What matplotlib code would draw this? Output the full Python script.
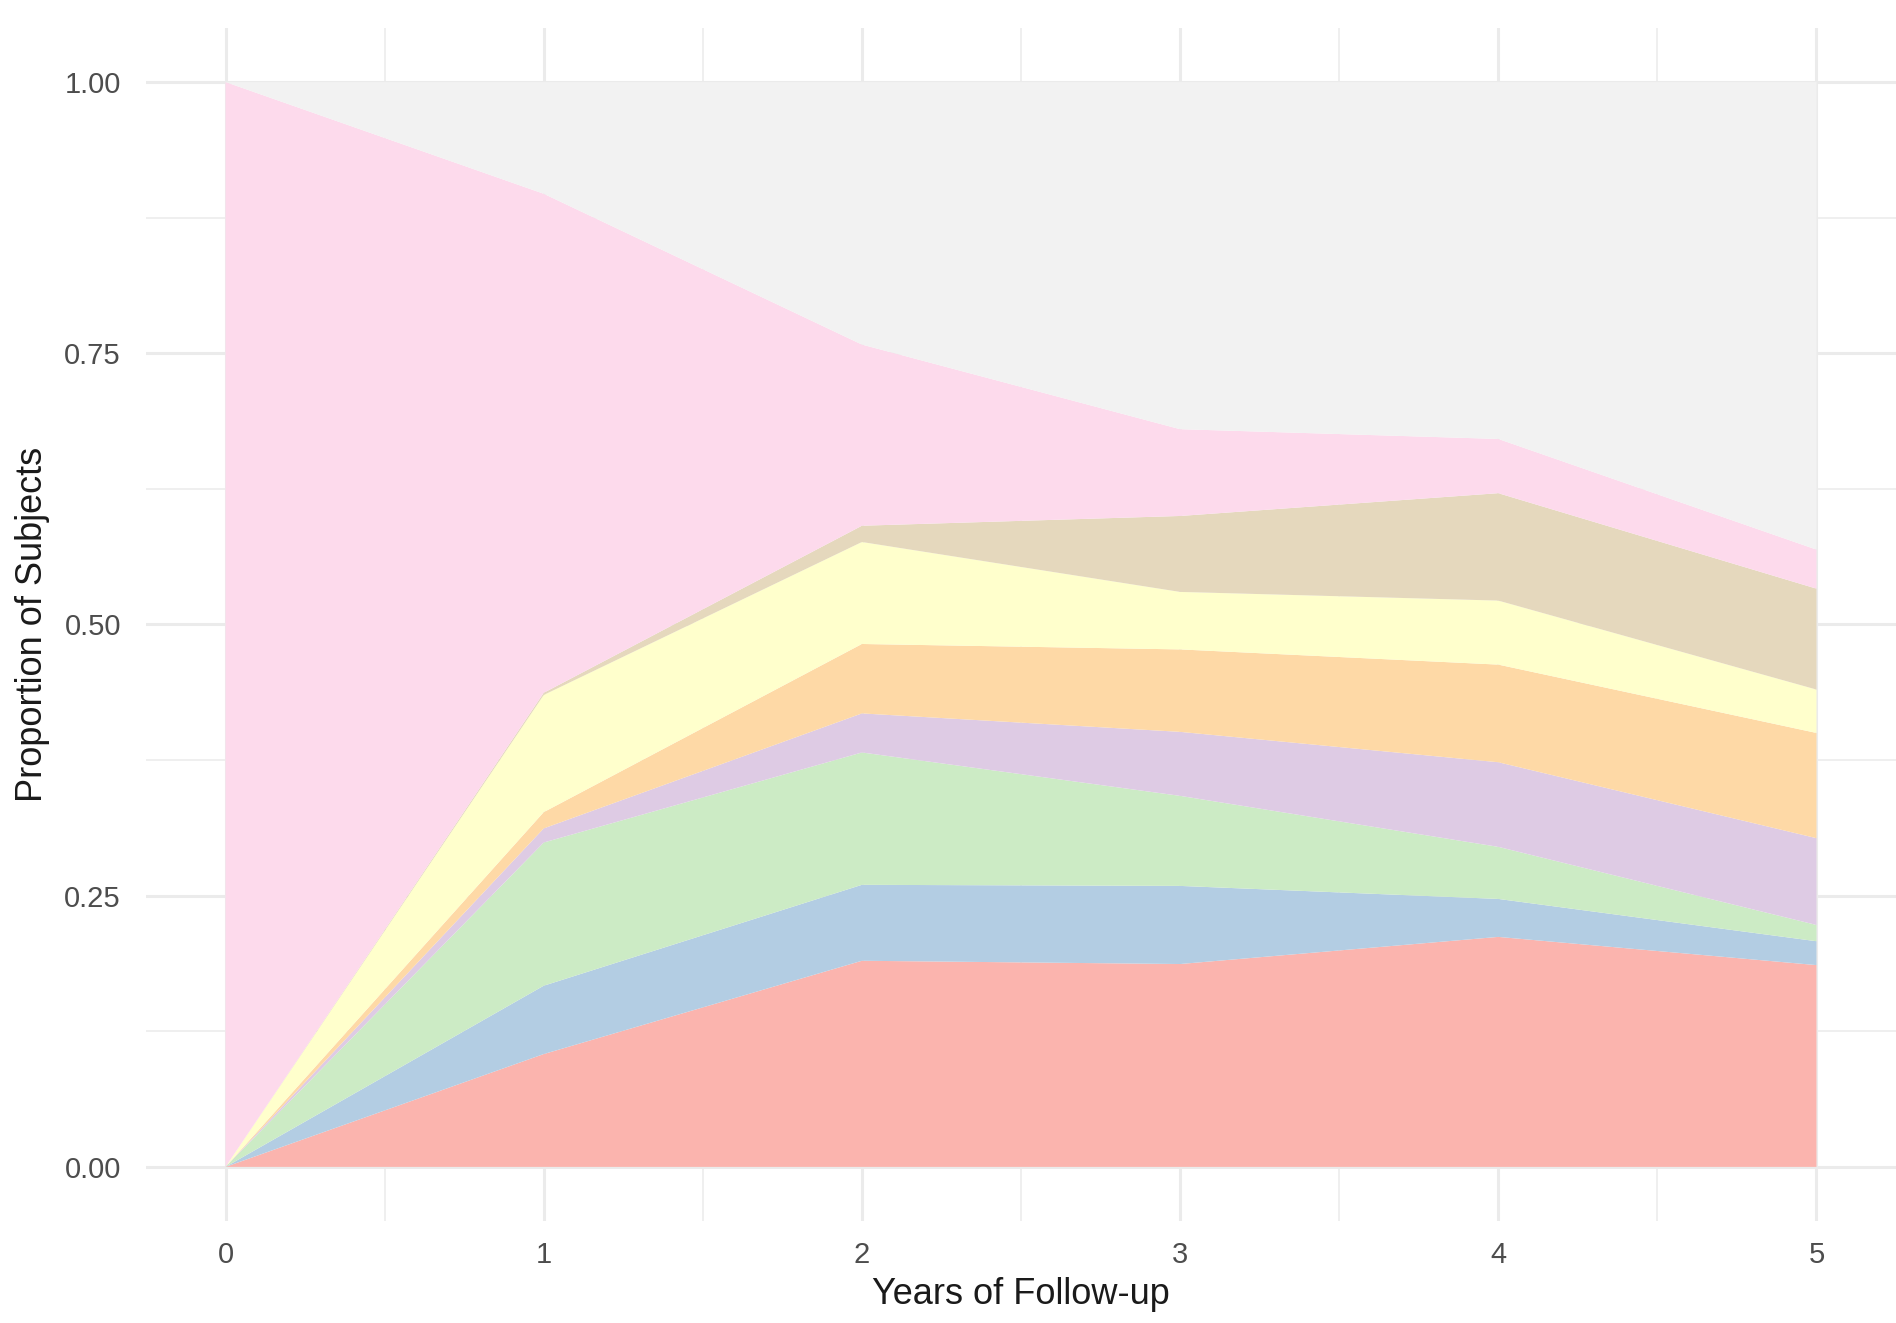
import matplotlib
matplotlib.use("Agg")
import matplotlib.pyplot as plt
import numpy as np

# proportions of subjects in each state by year of follow-up
years = [0, 1, 2, 3, 4, 5]
state_1 = [0, 0.104, 0.190, 0.187, 0.212, 0.186]
state_2 = [0, 0.063, 0.070, 0.072, 0.035, 0.022]
state_3 = [0, 0.132, 0.122, 0.083, 0.048, 0.015]
state_4 = [0, 0.013, 0.036, 0.059, 0.078, 0.080]
state_5 = [0, 0.015, 0.064, 0.076, 0.090, 0.097]
state_6 = [0, 0.108, 0.094, 0.053, 0.059, 0.040]
state_7 = [0, 0.002, 0.015, 0.070, 0.099, 0.093]
state_8 = [1, 0.460, 0.167, 0.080, 0.050, 0.036]
state_9 = [0, 0.103, 0.242, 0.320, 0.329, 0.431]

layers = [state_1, state_2, state_3, state_4, state_5,
          state_6, state_7, state_8, state_9]
# Pastel1
colors = ['#FBB4AE', '#B3CDE3', '#CCEBC5', '#DECBE4', '#FED9A6',
          '#FFFFCC', '#E5D8BD', '#FDDAEC', '#F2F2F2']

plt.rcParams['font.family'] = ['Liberation Sans', 'DejaVu Sans']

fig = plt.figure(figsize=(18.96, 13.23), dpi=100)
ax = fig.add_axes([0.077, 0.077, 0.923, 0.902])

ax.stackplot(years, *layers, colors=colors, linewidth=0, zorder=2)

ax.set_xlim(-0.25, 5.25)
ax.set_ylim(-0.05, 1.05)
ax.set_xticks(years)
ax.set_xticks(np.arange(0.5, 5, 1), minor=True)
ax.set_yticks([0, 0.25, 0.5, 0.75, 1.0])
ax.set_yticklabels(['0.00', '0.25', '0.50', '0.75', '1.00'])
ax.set_yticks([0.125, 0.375, 0.625, 0.875], minor=True)

ax.grid(which='major', color='#EBEBEB', linewidth=2.2, zorder=0)
ax.grid(which='minor', color='#EBEBEB', linewidth=1.1, zorder=0)
ax.set_axisbelow(True)
for s in ax.spines.values():
    s.set_visible(False)
ax.tick_params(which='both', length=0)
ax.tick_params(axis='both', labelsize=21, labelcolor='#4D4D4D')
ax.tick_params(axis='x', pad=14)
ax.tick_params(axis='y', pad=18)

ax.set_xlabel('Years of Follow-up', fontsize=26, color='#1A1A1A', labelpad=6)
ax.set_ylabel('Proportion of Subjects', fontsize=26, color='#1A1A1A', labelpad=10)

fig.savefig('out.png', dpi=100, facecolor='white')
